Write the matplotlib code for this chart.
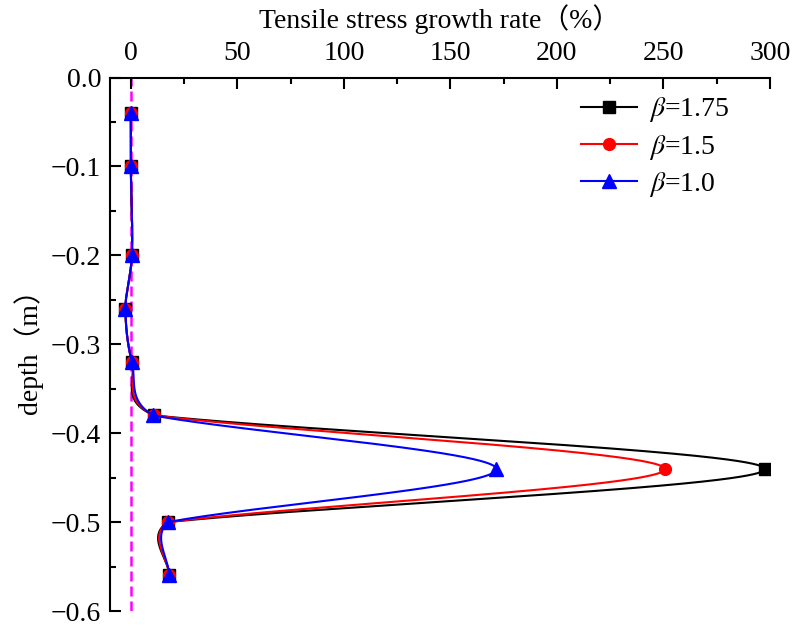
import numpy as np
import matplotlib
matplotlib.use("Agg")
import matplotlib.pyplot as plt
from matplotlib.ticker import MultipleLocator, FuncFormatter

plt.rcParams["font.family"] = ["Liberation Serif", "Noto Sans CJK SC"]
plt.rcParams["mathtext.fontset"] = "stix"

# depth of each measuring point (m)
depth = [-0.04, -0.10, -0.20, -0.26, -0.32, -0.38, -0.44, -0.50, -0.56]
# tensile stress growth rate (%) for each beta
rate_b175 = [0.0, 0.0, 0.5, -2.5, 0.5, 11.0, 297.6, 17.5, 18.0]
rate_b150 = [0.0, 0.0, 0.5, -2.5, 0.5, 11.0, 250.7, 17.5, 18.0]
rate_b100 = [0.0, 0.0, 0.5, -2.5, 0.5, 10.5, 171.6, 17.5, 18.0]

labels = [r"$\beta$=1.75", r"$\beta$=1.5", r"$\beta$=1.0"]
colors = ["#000000", "#FF0000", "#0000FF"]
markers = ["s", "o", "^"]
msizes = [8, 8.5, 10]

FS = 20

fig = plt.figure(figsize=(7.98, 6.26), dpi=100)
ax = fig.add_axes([109.5 / 798, 1 - 611 / 626, (770 - 109.5) / 798, (611 - 77.5) / 626])
ax.set_xlim(-10, 300)
ax.set_ylim(-0.6, 0.0)


def natural_spline(t, v, tt):
    n = len(t)
    h = np.diff(t)
    A = np.zeros((n, n))
    r = np.zeros(n)
    A[0, 0] = 1.0
    A[-1, -1] = 1.0
    for i in range(1, n - 1):
        A[i, i - 1] = h[i - 1]
        A[i, i] = 2 * (h[i - 1] + h[i])
        A[i, i + 1] = h[i]
        r[i] = 6 * ((v[i + 1] - v[i]) / h[i] - (v[i] - v[i - 1]) / h[i - 1])
    M = np.linalg.solve(A, r)
    idx = np.clip(np.searchsorted(t, tt, side="right") - 1, 0, n - 2)
    t0, t1 = t[idx], t[idx + 1]
    hh = t1 - t0
    a = (t1 - tt) / hh
    b = (tt - t0) / hh
    return (a * v[idx] + b * v[idx + 1]
            + ((a ** 3 - a) * M[idx] + (b ** 3 - b) * M[idx + 1]) * hh ** 2 / 6)


def catmull_rom(p0, p1, p2, p3, alpha, n=300):
    # Barry-Goldman form of the non-uniform Catmull-Rom segment p1 -> p2
    t0 = 0.0
    t1 = t0 + max(np.linalg.norm(p1 - p0), 1e-9) ** alpha
    t2 = t1 + max(np.linalg.norm(p2 - p1), 1e-9) ** alpha
    t3 = t2 + max(np.linalg.norm(p3 - p2), 1e-9) ** alpha
    t = np.linspace(t1, t2, n)[:, None]
    A1 = (t1 - t) / (t1 - t0) * p0 + (t - t0) / (t1 - t0) * p1
    A2 = (t2 - t) / (t2 - t1) * p1 + (t - t1) / (t2 - t1) * p2
    A3 = (t3 - t) / (t3 - t2) * p2 + (t - t2) / (t3 - t2) * p3
    B1 = (t2 - t) / (t2 - t0) * A1 + (t - t0) / (t2 - t0) * A2
    B2 = (t3 - t) / (t3 - t1) * A2 + (t - t1) / (t3 - t1) * A3
    return (t2 - t) / (t2 - t1) * B1 + (t - t1) / (t2 - t1) * B2


def smooth_curve(xs, ys, long_seg=150.0, yscale=0.3, alpha=0.25):
    # smooth line through the points, built in screen space:
    # long excursions follow a uniform natural spline, short steps a Catmull-Rom
    pts = ax.transData.transform(np.column_stack([xs, ys]))
    n = len(pts)
    knots = np.arange(n, dtype=float)
    Q = pts * [1.0, yscale]
    Q = np.vstack([2 * Q[0] - Q[1], Q, 2 * Q[-1] - Q[-2]])
    out = []
    for i in range(n - 1):
        if np.linalg.norm(pts[i + 1] - pts[i]) > long_seg:
            tt = np.linspace(knots[i], knots[i + 1], 600)
            seg = np.column_stack([natural_spline(knots, pts[:, 0], tt),
                                   natural_spline(knots, pts[:, 1], tt)])
        else:
            seg = catmull_rom(Q[i], Q[i + 1], Q[i + 2], Q[i + 3], alpha) / [1.0, yscale]
        out.append(seg)
    data = ax.transData.inverted().transform(np.vstack(out))
    return data[:, 0], data[:, 1]


ax.axvline(0, color="#FF00FF", lw=1.8, ls=(0, (4, 2)), zorder=1)

for k, (vals, lab, c, m, ms) in enumerate(zip([rate_b175, rate_b150, rate_b100],
                                               labels, colors, markers, msizes)):
    cx, cy = smooth_curve(vals, depth)
    ax.plot(cx, cy, color=c, lw=1.5, zorder=2 + k)
    ax.plot(vals, depth, ls="none", marker=m, ms=ms, color=c, zorder=2 + k)
    ax.plot([], [], color=c, lw=1.5, marker=m, ms=ms, label=lab)

ax.xaxis.tick_top()
ax.xaxis.set_label_position("top")
ax.xaxis.set_major_locator(MultipleLocator(50))
ax.xaxis.set_minor_locator(MultipleLocator(25))
ax.yaxis.set_major_locator(MultipleLocator(0.1))
ax.yaxis.set_minor_locator(MultipleLocator(0.05))
ax.yaxis.set_major_formatter(
    FuncFormatter(lambda v, p: ("%.1f" % v).replace("-", "\u2212") if abs(v) > 1e-9 else "0.0"))

ax.spines["right"].set_visible(False)
ax.spines["bottom"].set_visible(False)
for s in ("left", "top"):
    ax.spines[s].set_linewidth(1.5)

ax.tick_params(which="both", direction="in", width=1.5, labelsize=FS,
               top=True, bottom=False, left=True, right=False)
ax.tick_params(which="major", length=7.7)
ax.tick_params(which="minor", length=4)
ax.tick_params(axis="x", which="major", pad=8.3)
ax.tick_params(axis="y", which="major", pad=6)

ax.set_xlabel("Tensile stress growth rate（%）", fontsize=FS, labelpad=9)
ax.set_ylabel("depth（m）", fontsize=FS, labelpad=6)

ax.legend(loc="upper right", frameon=False, fontsize=FS, handlelength=2.0,
          handletextpad=0.45, labelspacing=0.3, borderaxespad=0.2,
          bbox_to_anchor=(0.964, 0.998))

fig.savefig("out.png", dpi=100)
